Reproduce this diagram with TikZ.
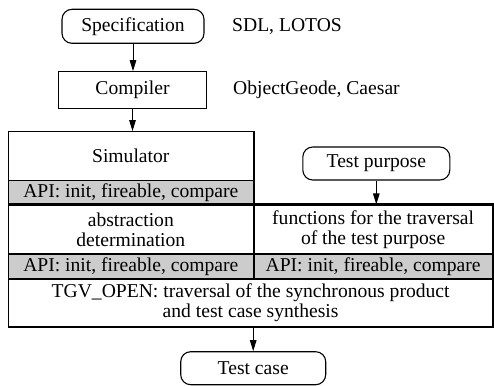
\documentclass[tikz,border=0pt]{standalone}
\usepackage{fontspec}
\setmainfont{Liberation Serif}
\usetikzlibrary{arrows.meta}
\begin{document}
\begin{tikzpicture}[x=1pt,y=-1pt,
  every node/.style={font=\fontsize{19.6}{20}\selectfont, inner sep=0pt, align=center},
  rbox/.style={draw, line width=1.1pt, rounded corners=10pt, minimum height=34pt},
  sbox/.style={draw, line width=1.1pt},
  sect/.style={draw, line width=1.1pt},
  apirow/.style={sect, fill=gray!40},
  thickline/.style={line width=2pt},
  arr/.style={line width=1pt, -{Triangle[length=11pt,width=6.5pt]}},
  note/.style={anchor=west}]
\useasboundingbox (0,0) rectangle (494,385);
% top boxes
\node[rbox, minimum width=142pt] (spec) at (133,26.3) {Specification};
\node[note] (specnote) at (232,26.3) {SDL, LOTOS};
\node[sbox, minimum width=148pt, minimum height=36.6pt] (comp) at (132.5,90) {Compiler};
\node[note] (compnote) at (233,90) {ObjectGeode, Caesar};
% main structure
\node[sect, minimum width=245pt, minimum height=49pt] (sim) at (130.8,156.2) {Simulator};
\node[apirow, minimum width=245pt, minimum height=24.3pt] (api1) at (130.8,192.85) {API: init, fireable, compare};
\node[sect, minimum width=245pt, minimum height=49pt] (abs) at (130.8,229.5) {abstraction\\determination};
\node[sect, minimum width=239.7pt, minimum height=49pt] (func) at (373.15,229.5) {functions for the traversal\\of the test purpose};
\node[apirow, minimum width=245pt, minimum height=25pt] (api2) at (130.8,266.5) {API: init, fireable, compare};
\node[apirow, minimum width=239.7pt, minimum height=25pt] (api3) at (373.15,266.5) {API: init, fireable, compare};
\node[sect, minimum width=484.7pt, minimum height=48pt] (tgv) at (250.65,303) {TGV\_OPEN: traversal of the synchronous product\\and test case synthesis};
\draw[thickline] (abs.north west) -- (func.north east);
\draw[thickline] (sim.north east) -- (api2.south east);
% side boxes
\node[rbox, minimum width=147pt, minimum height=33pt] (tp) at (376.3,163.5) {Test purpose};
\node[rbox, minimum width=145pt, minimum height=33pt] (tc) at (253.2,368.2) {Test case};
% arrows
\draw[arr] (spec.south) -- (spec.south |- comp.north);
\draw[arr] (comp.south) -- (comp.south |- sim.north);
\draw[arr] (tp.south) -- (tp.south |- func.north);
\draw[arr] (tc.north |- tgv.south) -- (tc.north);
\end{tikzpicture}
\end{document}
